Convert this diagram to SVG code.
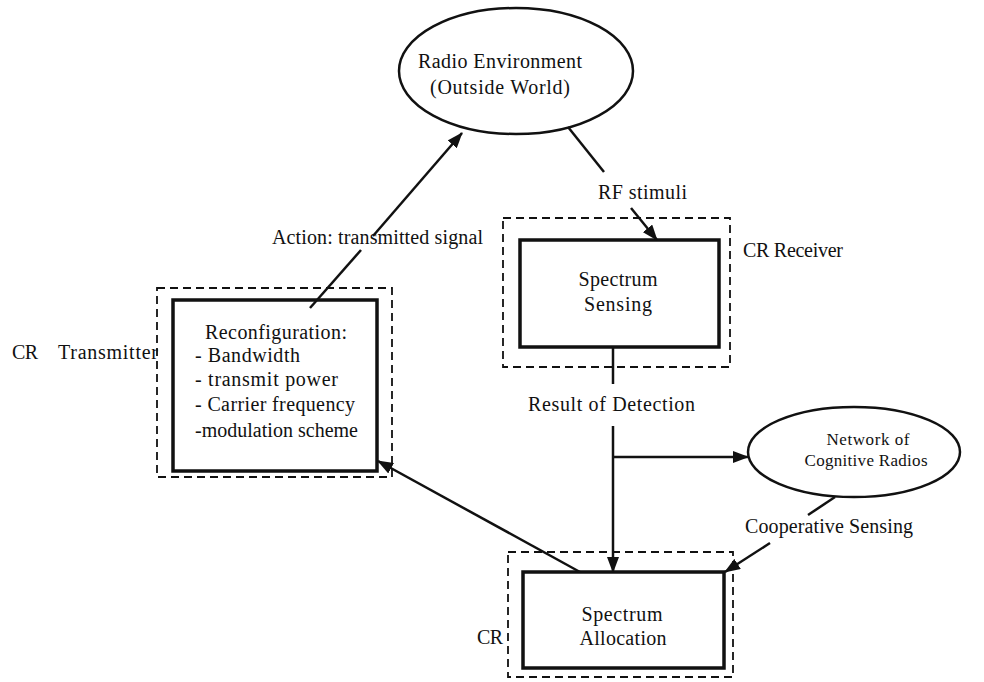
<svg xmlns="http://www.w3.org/2000/svg" width="984" height="682" viewBox="0 0 984 682">
<style>
text{font-family:"Liberation Serif","Times New Roman",serif;font-size:20px;fill:#111}
.m{text-anchor:middle}
.sm{font-size:17px}
.box{fill:#fff;stroke:#111;stroke-width:3.5}
.dash{fill:none;stroke:#111;stroke-width:1.8;stroke-dasharray:8 5}
.ell{fill:#fff;stroke:#111;stroke-width:2.5}
.ln{fill:none;stroke:#111;stroke-width:2.5}
</style>
<defs>
<marker id="ah" markerUnits="userSpaceOnUse" markerWidth="16" markerHeight="12" refX="15" refY="6" orient="auto">
<path d="M0,0 L16,6 L0,12 Z" fill="#111"/>
</marker>
</defs>
<rect width="984" height="682" fill="#fff"/>
<g id="radio-env">
<ellipse class="ell" cx="516" cy="71" rx="117" ry="63"/>
<text class="m" x="500" y="68" textLength="164">Radio Environment</text>
<text class="m" x="500" y="94" textLength="140">(Outside World)</text>
</g>
<g id="cr-transmitter">
<rect class="dash" x="157" y="288" width="235" height="189"/>
<rect class="box" x="173" y="300" width="204" height="171"/>
<text x="12" y="359" textLength="26">CR</text>
<text x="58" y="359" textLength="100">Transmitter</text>
<text x="205" y="339" textLength="142">Reconfiguration:</text>
<text x="195" y="362" textLength="105">- Bandwidth</text>
<text x="195" y="386" textLength="143">- transmit power</text>
<text x="195" y="411" textLength="160">- Carrier frequency</text>
<text x="195" y="437" textLength="163">-modulation scheme</text>
</g>
<g id="cr-receiver">
<rect class="dash" x="503" y="218" width="227" height="149"/>
<rect class="box" x="520" y="240" width="199" height="107"/>
<text x="743" y="257" textLength="100">CR Receiver</text>
<text class="m" x="618" y="286" textLength="79">Spectrum</text>
<text class="m" x="618" y="311" textLength="68">Sensing</text>
</g>
<g id="network">
<ellipse class="ell" cx="854" cy="452" rx="106" ry="45"/>
<text class="m sm" x="868" y="445" textLength="83">Network of</text>
<text class="m sm" x="866" y="466" textLength="123">Cognitive Radios</text>
</g>
<g id="cr-allocation">
<rect class="dash" x="508" y="552" width="225" height="125"/>
<rect class="box" x="523" y="572" width="201" height="96"/>
<text x="477" y="644" textLength="26">CR</text>
<text class="m" x="622" y="621" textLength="81">Spectrum</text>
<text class="m" x="623" y="645" textLength="87">Allocation</text>
</g>
<g id="connectors">
<path class="ln" d="M310,308 L361,250"/>
<path class="ln" d="M373,236 L462,133" marker-end="url(#ah)"/>
<text x="272" y="244" textLength="211">Action: transmitted signal</text>
<path class="ln" d="M568,127 L604,172"/>
<path class="ln" d="M631,208 L657,240" marker-end="url(#ah)"/>
<text x="598" y="199" textLength="89">RF stimuli</text>
<path class="ln" d="M613,347 L613,384"/>
<path class="ln" d="M613,426 L613,572" marker-end="url(#ah)"/>
<text x="528" y="411" textLength="167">Result of Detection</text>
<path class="ln" d="M613,457 L748,457" marker-end="url(#ah)"/>
<path class="ln" d="M835,497 L808,515"/>
<path class="ln" d="M770,543 L725,572" marker-end="url(#ah)"/>
<text x="745" y="533" textLength="168">Cooperative Sensing</text>
<path class="ln" d="M580,572 L378,461" marker-end="url(#ah)"/>
</g>
</svg>
